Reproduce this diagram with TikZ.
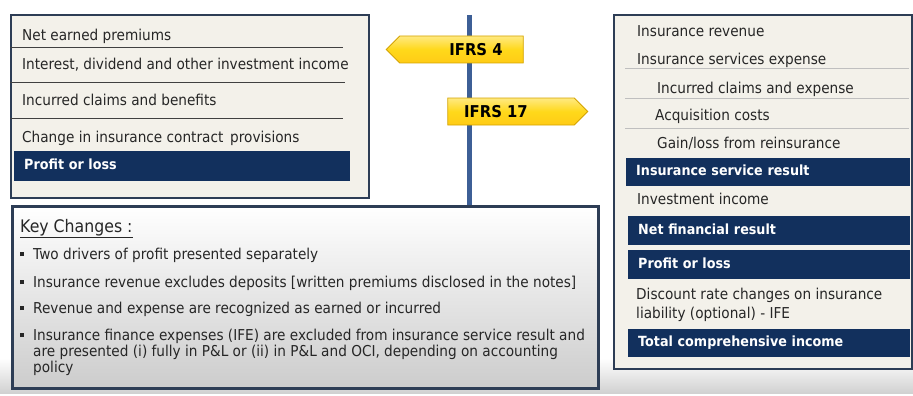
\documentclass[tikz,border=0pt]{standalone}
\usepackage{fontspec}
\setmainfont{DejaVu Sans}[FakeStretch=0.91]
\usetikzlibrary{shapes.symbols}

\definecolor{navybar}{HTML}{12305D}
\definecolor{panelcream}{HTML}{F3F1EA}
\definecolor{panelframe}{HTML}{2D3D55}
\definecolor{poleblue}{HTML}{3D5F96}
\definecolor{signyellow}{HTML}{FFD81A}
\definecolor{signedge}{HTML}{D4A300}
\definecolor{bodytext}{HTML}{262626}

\newcommand{\sqbul}{\llap{\rule[3pt]{4pt}{4pt}\hspace{9pt}}}

\begin{document}
\begin{tikzpicture}[x=1pt, y=-1pt,
    panel/.style={draw=panelframe, line width=1.8pt, fill=panelcream, anchor=north west, inner sep=0pt},
    row/.style={anchor=base west, inner sep=0pt, text=bodytext, font=\fontsize{15}{18}\selectfont},
    bar/.style={anchor=north west, fill=navybar, text=white, font=\bfseries\fontsize{14}{17}\selectfont,
      align=left, text width=#1, inner xsep=10pt, inner ysep=0pt, minimum height=28pt, text height=10pt, text depth=3pt},
    sepline/.style={draw=#1, line width=0.8pt},
    sign/.style={signal, draw=signedge, line width=0.8pt, top color=signyellow!55, bottom color=signyellow!85!orange,
      middle color=signyellow, minimum height=27pt, inner sep=0pt},
    signtext/.style={font=\bfseries\fontsize{16.3}{19}\selectfont, inner sep=0pt}]
  \useasboundingbox (0,0) rectangle (913,396);

  % floor under the panels
  \shade[top color=white, bottom color=black!18] (0,358) rectangle (913,393);

  % key changes panel and the signpost
  \node (keys) [panel, draw=panelframe, line width=2.5pt, top color=white, bottom color=black!20,
    minimum width=586pt, minimum height=182pt] at (11,205) {};
  \coordinate (poletop) at (469,15);
  \draw[poleblue, line width=5pt] (poletop) -- (poletop |- keys.north);

  \node (ifrsfour) [sign, signal to=west, minimum width=137pt] at (461.5,49.5) {};
  \node (ifrsfourtxt) [signtext] at (476,50) {IFRS 4};
  \node (ifrsseventeen) [sign, signal to=east, minimum width=140pt] at (511,111.5) {};
  \node (ifrsseventeentxt) [signtext] at (496,112) {IFRS 17};

  % IFRS 4 statement
  \node (old) [panel, minimum width=358pt, minimum height=183pt] at (10,14) {};
  \node (oldprem) [row] at (22,41) {Net earned premiums};
  \draw[sepline=black!75] (10,47) -- (343,47);
  \node (oldinv) [row] at (22,70) {Interest, dividend and other investment income};
  \draw[sepline=black!75] (10,82) -- (345,82);
  \node (oldclaims) [row] at (22,105) {Incurred claims and benefits};
  \draw[sepline=black!75] (10,118) -- (343,118);
  \node (oldprov) [row] at (22,142) {Change in insurance contract\, provisions};
  \node (oldpl) [bar=316pt, minimum height=30pt] at (14,151) {Profit or loss};

  % IFRS 17 statement
  \node (new) [panel, minimum width=298pt, minimum height=354pt] at (613,14) {};
  \node (newrev) [row] at (637,37) {Insurance revenue};
  \node (newexp) [row] at (637,65) {Insurance services expense};
  \draw[sepline=black!25] (625,68) -- (909,68);
  \node (newclaims) [row] at (657,93) {Incurred claims and expense};
  \draw[sepline=black!25] (625,98) -- (909,98);
  \node (newacq) [row] at (655,121) {Acquisition costs};
  \draw[sepline=black!25] (625,128) -- (909,128);
  \node (newre) [row] at (657,148) {Gain/loss from reinsurance};
  \node (newisr) [bar=264pt] at (626,158) {Insurance service result};
  \node (newinv) [row] at (637,204) {Investment income};
  \node (newnfr) [bar=262pt, minimum height=29pt] at (628,216) {Net financial result};
  \node (newpl) [bar=262pt, minimum height=29pt] at (628,250) {Profit or loss};
  \node (newdr) [row] at (636,299) {Discount rate changes on insurance};
  \node (newdrb) [row] at (636,318) {liability (optional) - IFE};
  \node (newtci) [bar=262pt] at (628,329) {Total comprehensive income};

  % key changes
  \node (keyhead) [row, font=\fontsize{17.3}{20}\selectfont] at (20,232) {\underline{Key Changes :}};
  \node (keyone) [row] at (33,259) {\sqbul Two drivers of profit presented separately};
  \node (keytwo) [row] at (33,287) {\sqbul Insurance revenue excludes deposits [written premiums disclosed in the notes]};
  \node (keythree) [row] at (33,313) {\sqbul Revenue and expense are recognized as earned or incurred};
  \node (keyfour) [row] at (33,340) {\sqbul Insurance finance expenses (IFE) are excluded from insurance service result and};
  \node (keyfourb) [row] at (33,356) {are presented (i) fully in P\&L or (ii) in P\&L and OCI, depending on accounting};
  \node (keyfourc) [row] at (33,372) {policy};
\end{tikzpicture}
\end{document}
